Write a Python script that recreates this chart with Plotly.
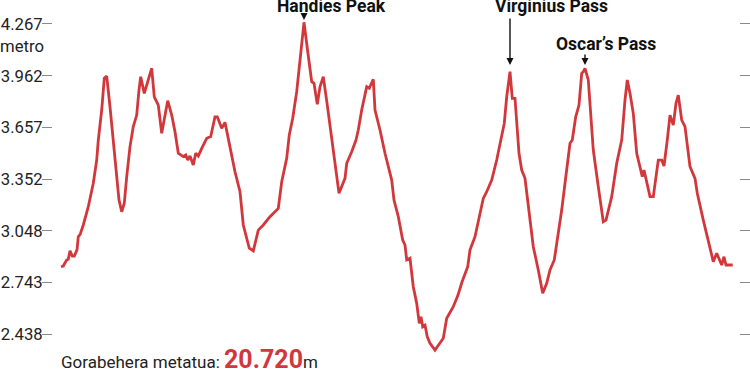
import plotly.graph_objects as go

distance_km = [
    0, 0.55, 1.37, 1.75, 2.16, 2.71, 3.19, 3.84, 4.15, 4.63,
    5.35, 6.55, 7.75, 8.57, 8.95, 9.77, 10.39, 10.97, 11.76, 12.96,
    13.92, 14.57, 15.19, 15.77, 16.56, 17.35, 18.17, 18.72, 19.13, 19.99,
    20.95, 21.77, 22.39, 23.35, 24.17, 24.96, 25.61, 26.57, 27.36, 28.15,
    29.35, 29.93, 30.41, 30.96, 31.75, 32.33, 32.95, 33.77, 34.97, 35.93,
    36.96, 37.51, 38.57, 39.36, 40.56, 41.76, 42.96, 43.75, 45.19, 46.15,
    47.35, 48.55, 50.16, 52.15, 52.97, 54.17, 54.79, 55.61, 56.57, 57.36,
    58.32, 59.11, 60.17, 60.72, 61.51, 62.16, 62.95, 63.91, 64.56, 65.35,
    66.72, 68.16, 68.57, 69.77, 70.8, 71.35, 72.17, 73.37, 73.99, 74.33,
    74.95, 75.36, 76.56, 77.76, 78.55, 79.37, 79.92, 80.95, 82.01, 82.56,
    82.97, 83.76, 84.55, 85.37, 85.99, 86.4, 86.81, 87.36, 87.91, 88.56,
    89.76, 91.75, 92.57, 94.15, 95.28, 96.24, 97.61, 98.16, 99.36, 100.56,
    101.35, 102.17, 103.37, 104.57, 105.77, 106.39, 106.97, 107.76, 108.31, 108.96,
    109.92, 110.57, 111.36, 112.15, 113.35, 114.55, 115.61, 116.57, 117.36, 118.39,
    119.35, 120.17, 120.96, 122.16, 122.71, 123.53, 124.32, 124.97, 125.35, 125.76,
    126.55, 126.96, 127.75, 128.95, 130.15, 130.8, 132.17, 133.37, 134.57, 135.36,
    135.91, 136.56, 137.35, 138.17, 138.96, 139.51, 139.92, 140.71, 141.36, 142.15,
    142.97, 143.35, 144.17, 144.72, 145.51, 146.16, 146.95, 147.6, 148.15, 148.97,
    149.76, 150.96, 152.16, 152.71, 154.15, 155.35, 156.55, 157.37, 158.57, 159.12,
    159.6, 161.21,
]

elevation_m = [
    2836, 2840, 2876, 2880, 2930, 2899, 2899, 2935, 3013, 3029,
    3082, 3190, 3328, 3465, 3583, 3760, 3947, 3960, 3779, 3465,
    3229, 3160, 3210, 3367, 3544, 3662, 3730, 3878, 3956, 3858,
    3937, 4006, 3838, 3789, 3623, 3740, 3815, 3730, 3632, 3505,
    3485, 3495, 3465, 3489, 3436, 3505, 3489, 3534, 3593, 3603,
    3720, 3720, 3652, 3687, 3534, 3396, 3278, 3082, 2945, 2929,
    3052, 3082, 3131, 3180, 3337, 3475, 3613, 3711, 3868, 4045,
    4277, 4124, 3927, 3917, 3794, 3897, 3956, 3789, 3671, 3505,
    3269, 3357, 3446, 3514, 3583, 3642, 3760, 3897, 3888, 3907,
    3941, 3760, 3642, 3505, 3426, 3347, 3229, 3131, 2993, 2964,
    2876, 2886, 2718, 2620, 2502, 2541, 2482, 2492, 2423, 2385,
    2345, 2414, 2532, 2600, 2669, 2746, 2836, 2935, 3013, 3151,
    3239, 3278, 3347, 3465, 3623, 3682, 3838, 3986, 3829, 3829,
    3505, 3406, 3357, 3190, 2954, 2817, 2679, 2738, 2817, 2876,
    3033, 3170, 3328, 3564, 3583, 3720, 3789, 3976, 3986, 4006,
    3937, 3779, 3524, 3308, 3101, 3111, 3249, 3446, 3583, 3819,
    3937, 3858, 3740, 3505, 3426, 3367, 3406, 3328, 3249, 3249,
    3406, 3465, 3465, 3430, 3583, 3730, 3671, 3800, 3848, 3701,
    3662, 3426, 3357, 3269, 3111, 2993, 2866, 2915, 2846, 2895,
    2846, 2846,
]

tick_values = [4267.2, 3962.4, 3657.6, 3352.8, 3048.0, 2743.2, 2438.4]
tick_labels = ["4.267", "3.962", "3.657", "3.352", "3.048", "2.743", "2.438"]

peak_names = ["Handies Peak", "Virginius Pass", "Oscar’s Pass"]
peak_km = [58.32, 107.76, 125.76]

total_label = "Gorabehera metatua: "
total_value = "20.720"
unit_label = "metro"

RED = "#D2373C"
FONT = "Roboto"

fig = go.Figure()
fig.add_trace(go.Scatter(
    x=distance_km, y=elevation_m, mode="lines",
    line=dict(color=RED, width=2.8), hoverinfo="skip", showlegend=False,
))

fig.update_layout(
    width=750, height=375,
    margin=dict(l=53, r=11, t=0, b=0, autoexpand=False),
    paper_bgcolor="white", plot_bgcolor="white",
    xaxis=dict(range=[-1.92, 162.72], visible=False, fixedrange=True,
               automargin=False),
    yaxis=dict(
        range=[2197.6, 4408.5], showgrid=False, zeroline=False, showline=False,
        tickmode="array", tickvals=tick_values, ticktext=tick_labels,
        ticks="outside", ticklen=10, tickwidth=1.3, tickcolor="#8a8a8a",
        mirror="ticks", automargin=False, ticklabelstandoff=-4,
        tickfont=dict(family=FONT, size=16.7, color="#222"),
        fixedrange=True,
    ),
)

# unit label under top tick
fig.add_annotation(
    text=unit_label, xref="paper", x=-55 / 686, xanchor="left",
    yref="y", y=4134, yanchor="middle", showarrow=False,
    font=dict(family=FONT, size=16.7, color="#222"),
)

bold_font = dict(family=FONT, size=17.5, color="#111", weight=900)

# Handies Peak
fig.add_annotation(text="<b>" + peak_names[0] + "</b>", x=64.97, y=4375,
                   xanchor="center", yanchor="middle", showarrow=False, font=bold_font)
fig.add_annotation(text="", x=peak_km[0], y=4291, ax=peak_km[0], ay=4326,
                   axref="x", ayref="y", showarrow=True, arrowhead=2,
                   arrowsize=1, arrowwidth=1.4, arrowcolor="#111")
# Virginius Pass
fig.add_annotation(text="<b>" + peak_names[1] + "</b>", x=103.6, y=4375,
                   xanchor="left", yanchor="middle", showarrow=False, font=bold_font)
fig.add_annotation(text="", x=peak_km[1], y=4025, ax=peak_km[1], ay=4308,
                   axref="x", ayref="y", showarrow=True, arrowhead=2,
                   arrowsize=1, arrowwidth=1.4, arrowcolor="#111")
# Oscar's Pass
fig.add_annotation(text="<b>" + peak_names[2] + "</b>", x=118.3, y=4152,
                   xanchor="left", yanchor="middle", showarrow=False, font=bold_font)
fig.add_annotation(text="", x=peak_km[2], y=4025, ax=peak_km[2], ay=4096,
                   axref="x", ayref="y", showarrow=True, arrowhead=2,
                   arrowsize=1, arrowwidth=1.4, arrowcolor="#111")

# total elevation
fig.add_annotation(
    text=total_label + "<span style='font-size:25px;color:" + RED
         + ";font-weight:900'><b>" + total_value + "</b></span>m",
    x=-0.5, xanchor="left", y=2290, yanchor="middle", showarrow=False,
    font=dict(family=FONT, size=17, color="#222"),
)

fig.write_html("out.html")
